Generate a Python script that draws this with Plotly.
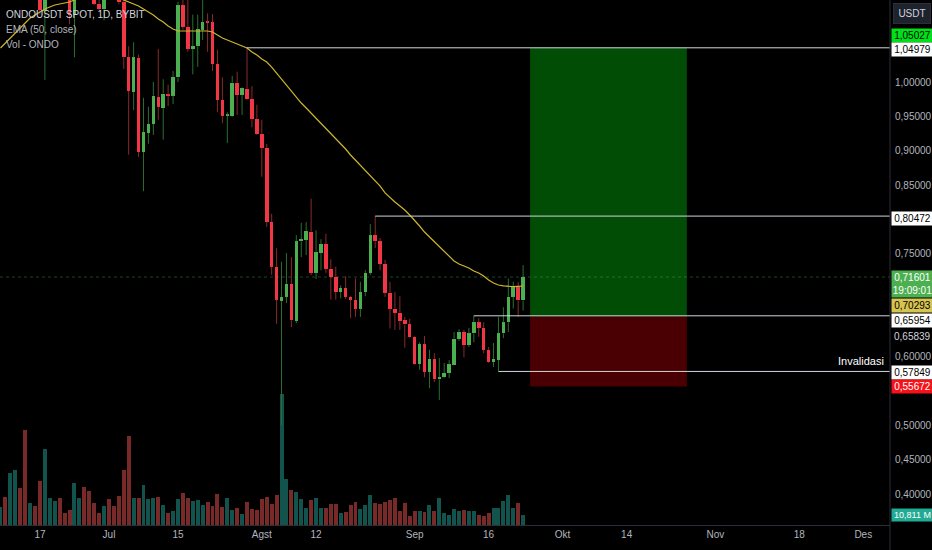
import pandas as pd
import plotly.graph_objects as go

# ---------------- data ----------------
dates = pd.date_range("2024-06-09", "2024-09-23", freq="D")

opens = [
    1.28, 1.33, 1.29, 1.36, 1.41, 1.35, 1.22, 1.25, 1.22, 1.103, 1.18, 1.22, 1.24, 1.19, 1.17, 1.098, 1.17, 1.21, 1.18, 1.16, 1.114, 1.106,
    1.15, 1.14, 1.13, 1.116, 1.036, 0.985, 1.035, 0.898, 0.926, 0.939, 0.978, 0.962, 0.981, 0.980, 1.007, 1.112, 1.080, 1.048, 1.052, 1.076,
    1.087, 1.087, 1.026, 0.974, 0.951, 0.950, 0.999, 0.981, 0.990, 0.975, 0.946,
    0.924, 0.904, 0.796, 0.731, 0.681, 0.687, 0.706, 0.652, 0.768, 0.770, 0.782, 0.722, 0.751, 0.764, 0.728, 0.716, 0.694, 0.700, 0.687, 0.683,
    0.670, 0.694, 0.722, 0.777, 0.768, 0.735, 0.693, 0.670, 0.664, 0.653, 0.647,
    0.629, 0.589, 0.618, 0.578, 0.597, 0.567, 0.570, 0.576, 0.588, 0.626, 0.636, 0.617, 0.634, 0.650, 0.642, 0.610, 0.592, 0.595, 0.634, 0.650,
    0.687, 0.701, 0.682,
]
highs = [
    1.35, 1.36, 1.38, 1.44, 1.43, 1.37, 1.27, 1.27, 1.24, 1.20, 1.25, 1.28, 1.26, 1.21, 1.19, 1.19, 1.24, 1.23, 1.22, 1.18, 1.14, 1.17,
    1.20, 1.17, 1.15, 1.13, 1.052, 1.058, 1.040, 0.977, 0.964, 1.000, 1.048, 1.004, 0.996, 1.016, 1.117, 1.130, 1.125, 1.098, 1.098, 1.125,
    1.100, 1.099, 1.047, 1.007, 0.956, 1.009, 1.015, 0.992, 1.0498, 0.994, 0.967,
    0.945, 0.910, 0.808, 0.758, 0.738, 0.751, 0.745, 0.777, 0.795, 0.796, 0.830, 0.784, 0.771, 0.779, 0.742, 0.731, 0.704, 0.717, 0.688, 0.714,
    0.709, 0.726, 0.793, 0.8047, 0.773, 0.741, 0.709, 0.694, 0.688, 0.658, 0.655,
    0.630, 0.621, 0.630, 0.610, 0.605, 0.598, 0.591, 0.595, 0.636, 0.640, 0.639, 0.642, 0.6595, 0.656, 0.650, 0.614, 0.620, 0.658, 0.672, 0.714,
    0.709, 0.709, 0.7335,
]
lows = [
    1.26, 1.27, 1.27, 1.34, 1.33, 1.14, 1.19, 1.20, 1.098, 1.003, 1.16, 1.20, 1.17, 1.15, 1.084, 1.036, 1.15, 1.16, 1.14, 1.112, 1.104, 1.090,
    1.13, 1.125, 1.113, 1.019, 0.894, 0.959, 0.891, 0.841, 0.910, 0.923, 0.945, 0.916, 0.965, 0.968, 1.000, 1.076, 1.044, 1.011, 1.022, 1.061,
    1.044, 1.016, 0.956, 0.940, 0.911, 0.949, 0.952, 0.952, 0.974, 0.934, 0.923,
    0.862, 0.789, 0.719, 0.648, 0.500, 0.678, 0.643, 0.649, 0.745, 0.748, 0.719, 0.713, 0.726, 0.722, 0.683, 0.683, 0.685, 0.684, 0.656, 0.658,
    0.658, 0.688, 0.719, 0.758, 0.726, 0.687, 0.641, 0.639, 0.639, 0.613, 0.627,
    0.588, 0.581, 0.570, 0.554, 0.563, 0.537, 0.569, 0.569, 0.588, 0.623, 0.599, 0.614, 0.621, 0.629, 0.605, 0.591, 0.585, 0.5785, 0.627, 0.636,
    0.670, 0.658, 0.667,
]
closes = [
    1.33, 1.29, 1.36, 1.41, 1.35, 1.22, 1.25, 1.22, 1.105, 1.18, 1.22, 1.24, 1.19, 1.17, 1.098, 1.17, 1.21, 1.18, 1.16, 1.114, 1.106, 1.15,
    1.14, 1.13, 1.116, 1.036, 0.987, 1.036, 0.898, 0.927, 0.939, 0.980, 0.964, 0.983, 0.980, 1.007, 1.112, 1.080, 1.048, 1.052, 1.077, 1.087,
    1.086, 1.026, 0.974, 0.950, 0.952, 0.999, 0.981, 0.991, 0.975, 0.946, 0.924,
    0.904, 0.796, 0.731, 0.683, 0.687, 0.706, 0.653, 0.768, 0.771, 0.783, 0.722, 0.752, 0.764, 0.728, 0.716, 0.694, 0.700, 0.687, 0.683, 0.670,
    0.694, 0.722, 0.777, 0.768, 0.735, 0.693, 0.670, 0.664, 0.652, 0.647, 0.628,
    0.589, 0.618, 0.578, 0.597, 0.567, 0.570, 0.576, 0.589, 0.626, 0.636, 0.617, 0.634, 0.650, 0.642, 0.610, 0.592, 0.597, 0.634, 0.650, 0.687,
    0.701, 0.682, 0.71601,
]
volume_m = [
    19.4, 30.2, 56.2, 59.4, 40.0, 102.6, 23.8, 20.5, 47.5, 82.1, 29.2, 25.9, 29.2, 13.0, 16.2, 45.4, 29.2, 41.0, 36.7, 23.8, 13.0, 20.5,
    28.1, 20.5, 31.3, 59.4, 96.1, 29.2, 29.2, 43.2, 28.1, 29.2, 30.2, 21.6, 13.0, 15.1, 28.1, 34.6, 29.2, 25.9, 27.0, 21.6,
    24.8, 20.5, 33.5, 19.4, 29.2, 16.2, 18.4, 11.9, 24.8, 17.3, 16.2,
    28.1, 30.2, 22.7, 32.4, 141.5, 49.7, 37.8, 35.6, 28.1, 18.4, 27.0, 29.2, 18.4, 18.4, 22.7, 22.7, 13.0, 14.0, 21.6, 24.8,
    17.3, 21.6, 32.4, 23.8, 22.7, 24.8, 27.0, 29.2, 15.1, 23.8, 9.7,
    15.1, 15.1, 14.0, 21.6, 15.1, 29.2, 13.0, 10.8, 17.3, 15.1, 16.2, 15.1, 15.1, 10.8, 9.7, 13.0, 18.4, 18.4, 25.9, 32.4,
    18.4, 23.8, 10.811,
]
ema50 = [
    1.0495, 1.0568, 1.0641, 1.0713, 1.0801, 1.0874, 1.0932, 1.0976, 1.1019, 1.1063, 1.1092, 1.1121, 1.1136, 1.1150, 1.1165, 1.1194,
    1.1223, 1.1250, 1.1270, 1.1280, 1.1280, 1.1275,
    1.1265, 1.1252, 1.1223, 1.1194, 1.1172, 1.1143, 1.1107, 1.1063, 1.1019, 1.0976, 1.0917, 1.0874, 1.0815, 1.0772, 1.0743, 1.0743,
    1.0743, 1.0743, 1.0743, 1.0743, 1.0743, 1.0728, 1.0684, 1.0641, 1.0612, 1.0583, 1.0553, 1.0524, 1.0495, 1.0437, 1.0393,
    1.0335, 1.0291, 1.0218, 1.0131, 1.0044, 0.9956, 0.9869, 0.9767, 0.9694, 0.9621, 0.9548, 0.9461, 0.9388, 0.9315, 0.9243, 0.9170,
    0.9097, 0.9024, 0.8937, 0.8864, 0.8791, 0.8718, 0.8646, 0.8573, 0.8485, 0.8384, 0.8311, 0.8252, 0.8194, 0.8136, 0.8063,
    0.7990, 0.7903, 0.7815, 0.7743, 0.7670, 0.7597, 0.7524, 0.7452, 0.7393, 0.7350, 0.7320, 0.7291, 0.7248, 0.7218, 0.7175, 0.7117,
    0.7073, 0.7044, 0.7030, 0.7022, 0.7020, 0.7025, 0.70293,
]

tick_dates = ["2024-06-17", "2024-07-01", "2024-07-15", "2024-08-01", "2024-08-12", "2024-09-01",
              "2024-09-16", "2024-10-01", "2024-10-14", "2024-11-01", "2024-11-18", "2024-12-01"]
tick_text = ["17", "Jul", "15", "Agst", "12", "Sep", "16", "Okt", "14", "Nov", "18", "Des"]
price_ticks = [0.40, 0.45, 0.50, 0.60, 0.75, 0.85, 0.90, 0.95, 1.00]

# drawing levels (price, start date)
level_lines = [(1.04979, "2024-07-29"), (0.80472, "2024-08-24"), (0.65954, "2024-09-13"), (0.57849, "2024-09-18")]
target_price = 1.05027
entry_price = 0.65839
stop_price = 0.55672
last_price = 0.71601
last_ema = 0.70293
last_volume_m = 10.811
position_start = "2024-09-24 10:00"
position_end = "2024-10-26 05:00"
x_range = ["2024-06-08 21:30", "2024-12-06 10:00"]
price_range = [0.35489, 1.11941]
volume_range = [0, 567]

# ---------------- styling ----------------
UP, DOWN = "#4caf50", "#f23645"
UP_WICK, DOWN_WICK = "#2b6e2f", "#8a2a2c"
VOL_UP, VOL_DOWN = "rgba(38,166,154,0.5)", "rgba(239,83,80,0.5)"
FONT = "Liberation Sans, Arial, sans-serif"
TXT = "#b2b5be"
DAY_MS = 86400000

def fmt(v):
    return f"{v:.5f}".replace(".", ",")

up = [c >= o for o, c in zip(opens, closes)]

fig = go.Figure()

# volume (bottom axis, drawn under price)
fig.add_trace(go.Bar(
    x=dates, y=volume_m, yaxis="y", width=0.8 * DAY_MS,
    marker=dict(color=[VOL_UP if u else VOL_DOWN for u in up], line=dict(width=0)),
    hoverinfo="skip",
))

# candle bodies
body_base = [min(o, c) for o, c in zip(opens, closes)]
body_h = [max(abs(c - o), 0.0015) for o, c in zip(opens, closes)]
fig.add_trace(go.Bar(
    x=dates, y=body_h, base=body_base, yaxis="y2", width=0.72 * DAY_MS,
    marker=dict(color=[UP if u else DOWN for u in up], line=dict(width=0)),
    hoverinfo="skip",
))

# wicks (outside the bodies)
for want_up, col in ((True, UP_WICK), (False, DOWN_WICK)):
    wx, wy = [], []
    for d, o, h, l, c, u in zip(dates, opens, highs, lows, closes, up):
        if u != want_up:
            continue
        top, bot = max(o, c), min(o, c)
        if h > top:
            wx += [d, d, None]
            wy += [h, top, None]
        if l < bot:
            wx += [d, d, None]
            wy += [bot, l, None]
    fig.add_trace(go.Scatter(x=wx, y=wy, yaxis="y2", mode="lines",
                             line=dict(color=col, width=1), hoverinfo="skip"))

# EMA 50
fig.add_trace(go.Scatter(x=dates, y=ema50, yaxis="y2", mode="lines",
                         line=dict(color="#cdb62c", width=1.2), hoverinfo="skip"))

shapes = []
# long position box
shapes.append(dict(type="rect", xref="x", yref="y2", x0=position_start, x1=position_end,
                   y0=entry_price, y1=target_price, fillcolor="#024d06", line=dict(width=0), layer="below"))
shapes.append(dict(type="rect", xref="x", yref="y2", x0=position_start, x1=position_end,
                   y0=stop_price, y1=entry_price, fillcolor="#4a0002", line=dict(width=0), layer="below"))
# current price line
shapes.append(dict(type="line", xref="paper", yref="y2", x0=0, x1=1, y0=last_price, y1=last_price,
                   line=dict(color="rgba(76,175,80,0.4)", width=1, dash="dot")))
# horizontal levels
for price, start in level_lines:
    shapes.append(dict(type="line", xref="x", yref="y2", x0=start, x1="2025-01-31",
                       y0=price, y1=price, line=dict(color="#d1d4dc", width=1)))
# axis separator line
shapes.append(dict(type="line", xref="paper", yref="paper", x0=1, x1=1, y0=-0.05, y1=1,
                   line=dict(color="#2a2e39", width=1)))

annotations = []
# legend text
for i, (t, col) in enumerate([("ONDOUSDT SPOT, 1D, BYBIT", "#d1d4dc"),
                              ("EMA (50, close)", TXT), ("Vol - ONDO", TXT)]):
    annotations.append(dict(xref="paper", yref="paper", x=0, y=1, xanchor="left", yanchor="middle",
                            xshift=4, yshift=-14 - 15 * i, text=t, showarrow=False,
                            font=dict(family=FONT, size=10, color=col)))

# right-axis price labels: (price, text, bg, fg, yshift)
price_labels = [
    (target_price, fmt(target_price), "#00e01a", "#000000", 12),
    (1.04979, fmt(1.04979), "#ffffff", "#000000", -2),
    (0.80472, fmt(0.80472), "#ffffff", "#000000", -2),
    (last_ema, fmt(last_ema), "#d6c350", "#000000", -19),
    (0.65954, fmt(0.65954), "#ffffff", "#000000", -5),
    (0.57849, fmt(0.57849), "#ffffff", "#000000", -1),
    (stop_price, fmt(stop_price), "#f7121a", "#ffffff", 0),
]
for p, t, bg, fg, ys in price_labels:
    annotations.append(dict(xref="paper", yref="y2", x=1, y=p, xanchor="left", yanchor="middle",
                            xshift=1, yshift=ys, text=t, showarrow=False, bgcolor=bg, width=39,
                            borderpad=1, font=dict(family=FONT, size=10, color=fg)))
annotations.append(dict(xref="paper", yref="y2", x=1, y=last_price, xanchor="left", yanchor="top",
                        xshift=1, yshift=7, text=fmt(last_price) + "<br>19:09:01", showarrow=False,
                        bgcolor="#4caf50", width=39, borderpad=1,
                        font=dict(family=FONT, size=10, color="#ffffff")))
annotations.append(dict(xref="paper", yref="y2", x=1, y=entry_price, xanchor="left", yanchor="middle",
                        xshift=2, yshift=-20, text=fmt(entry_price), showarrow=False,
                        font=dict(family=FONT, size=10, color="#d1d4dc")))
annotations.append(dict(xref="paper", yref="y2", x=1, y=0.57849, xanchor="right", yanchor="middle",
                        xshift=-4, yshift=10, text="Invalidasi", showarrow=False,
                        font=dict(family=FONT, size=11, color="#ffffff")))
annotations.append(dict(xref="paper", yref="y", x=1, y=last_volume_m, xanchor="left", yanchor="middle",
                        xshift=1, text=f"{last_volume_m:.3f}".replace(".", ",") + " M", showarrow=False,
                        bgcolor="#22ab94", width=39, borderpad=1,
                        font=dict(family=FONT, size=9, color="#ffffff")))
annotations.append(dict(xref="paper", yref="paper", x=1, y=1, xanchor="left", yanchor="top",
                        xshift=3, yshift=-3, text="USDT", showarrow=False, bgcolor="#1e222d",
                        bordercolor="#2a2e39", borderwidth=1, borderpad=4, width=28,
                        font=dict(family=FONT, size=10, color="#d1d4dc")))

fig.update_layout(
    width=932, height=550,
    margin=dict(l=0, r=42, t=0, b=25),
    paper_bgcolor="#000000", plot_bgcolor="#000000",
    showlegend=False, barmode="overlay", bargap=0,
    xaxis=dict(type="date", range=x_range, tickvals=tick_dates, ticktext=tick_text,
               showgrid=False, zeroline=False, showline=True, linecolor="#2a2e39", ticks="",
               tickfont=dict(family=FONT, size=10, color=TXT), fixedrange=True),
    yaxis=dict(range=volume_range, visible=False, fixedrange=True),
    yaxis2=dict(overlaying="y", side="right", range=price_range, tickvals=price_ticks,
                ticktext=[fmt(v) for v in price_ticks], showgrid=False, zeroline=False,
                showline=False, ticks="", ticklabelstandoff=4,
                tickfont=dict(family=FONT, size=10, color=TXT), fixedrange=True),
    shapes=shapes, annotations=annotations,
)

fig.write_html("out.html", config={"displayModeBar": False},
               post_script="document.body.style.margin='0';document.body.style.overflow='hidden';")
